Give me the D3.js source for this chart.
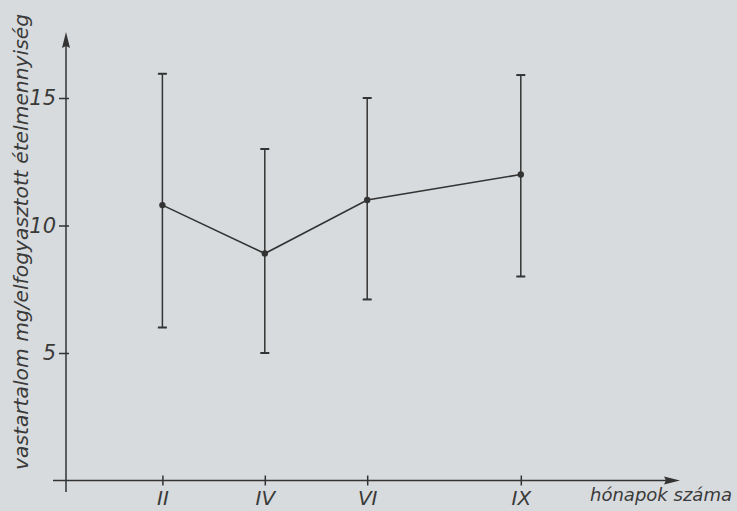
<!DOCTYPE html>
<html>
<head>
<meta charset="utf-8">
<script src="https://cdn.jsdelivr.net/npm/d3@7"></script>
<style>
  html, body { margin: 0; padding: 0; background: #d8dbdd; }
  svg { display: block; }
  text { font-family: "DejaVu Sans", sans-serif; font-style: italic; fill: #3a3a3a; }
</style>
</head>
<body>
<div id="chart"></div>
<script>
// months (number of month) and their roman labels
var months = [2, 4, 6, 9];
var monthLabels = ["II", "IV", "VI", "IX"];
// mean iron content and the range drawn as error bars
var means = [10.8, 8.9, 11.0, 12.0];
var lows = [6.0, 5.0, 7.1, 8.0];
var highs = [15.95, 13.0, 15.0, 15.9];
var yTicks = [5, 10, 15];

var width = 737, height = 511;
var ink = "#333";

var svg = d3.select("#chart").append("svg")
    .attr("width", width)
    .attr("height", height);

var x = d3.scaleLinear().domain([0, 13]).range([60, 60 + 13 * 51.2]);
var y = d3.scaleLinear().domain([0, 16]).range([480.5, 480.5 - 16 * 25.5]);

var axisX = 66;
var axisY = y(0);

// x axis line + arrow
svg.append("line")
    .attr("x1", 53).attr("x2", 672)
    .attr("y1", axisY).attr("y2", axisY)
    .attr("stroke", ink).attr("stroke-width", 1.5);
svg.append("path")
    .attr("d", `M680,${axisY} L664,${axisY - 4} L666,${axisY} L664,${axisY + 4} Z`)
    .attr("fill", ink);

// y axis line + arrow
svg.append("line")
    .attr("x1", axisX).attr("x2", axisX)
    .attr("y1", 492).attr("y2", 40)
    .attr("stroke", ink).attr("stroke-width", 1.5);
svg.append("path")
    .attr("d", `M${axisX},32 L${axisX - 4},48 L${axisX},46 L${axisX + 4},48 Z`)
    .attr("fill", ink);

// x ticks
var xAxis = svg.append("g")
    .attr("transform", `translate(0,${axisY})`)
    .call(d3.axisBottom(x).tickValues(months).tickFormat((d, i) => monthLabels[i]).tickSize(5));
xAxis.select(".domain").remove();
xAxis.selectAll("line").attr("y1", -5).attr("y2", 5).attr("stroke", ink).attr("stroke-width", 1.5);
xAxis.selectAll("text")
    .attr("y", 10)
    .style("font-size", "20px")
    .style("font-family", "DejaVu Sans, sans-serif")
    .style("fill", "#3a3a3a");

// y ticks
var yAxis = svg.append("g")
    .attr("transform", `translate(${axisX},0)`)
    .call(d3.axisLeft(y).tickValues(yTicks).tickSize(7));
yAxis.select(".domain").remove();
yAxis.selectAll("line").attr("x1", 3).attr("x2", -7).attr("stroke", ink).attr("stroke-width", 1.5);
yAxis.selectAll("text")
    .attr("x", -10)
    .style("font-size", "21px")
    .style("font-family", "DejaVu Sans, sans-serif")
    .style("fill", "#3a3a3a");

// error bars
var bars = svg.append("g");
months.forEach(function (m, i) {
    var cx = x(m);
    bars.append("line")
        .attr("x1", cx).attr("x2", cx)
        .attr("y1", y(lows[i])).attr("y2", y(highs[i]))
        .attr("stroke", ink).attr("stroke-width", 1.5);
    [lows[i], highs[i]].forEach(function (v) {
        bars.append("line")
            .attr("x1", cx - 4.5).attr("x2", cx + 4.5)
            .attr("y1", y(v)).attr("y2", y(v))
            .attr("stroke", ink).attr("stroke-width", 2);
    });
});

// mean line
var line = d3.line()
    .x((d, i) => x(months[i]))
    .y(d => y(d));
svg.append("path")
    .datum(means)
    .attr("d", line)
    .attr("fill", "none")
    .attr("stroke", ink)
    .attr("stroke-width", 1.6);

svg.selectAll("circle.mean")
    .data(means).enter()
    .append("circle")
    .attr("class", "mean")
    .attr("cx", (d, i) => x(months[i]))
    .attr("cy", d => y(d))
    .attr("r", 3.2)
    .attr("fill", ink);

// axis titles
svg.append("text")
    .attr("transform", "translate(28,470) rotate(-90)")
    .attr("x", 0).attr("y", 0)
    .attr("textLength", 456)
    .attr("lengthAdjust", "spacingAndGlyphs")
    .style("font-size", "20px")
    .text("vastartalom  mg/elfogyasztott ételmennyiség");

svg.append("text")
    .attr("x", 590).attr("y", 501)
    .attr("textLength", 142)
    .attr("lengthAdjust", "spacingAndGlyphs")
    .style("font-size", "18px")
    .text("hónapok száma");
</script>
</body>
</html>
